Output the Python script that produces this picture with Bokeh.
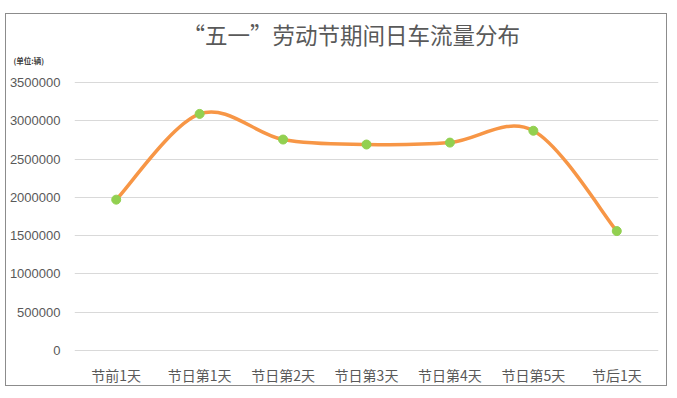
from bokeh.plotting import figure
from bokeh.models import Range1d, FixedTicker, Title, ColumnDataSource
from bokeh.embed import file_html
from bokeh.resources import INLINE

categories = ["节前1天", "节日第1天", "节日第2天", "节日第3天", "节日第4天", "节日第5天", "节后1天"]
traffic = [1970000, 3090000, 2755000, 2690000, 2715000, 2870000, 1560000]
y_ticks = [0, 500000, 1000000, 1500000, 2000000, 2500000, 3000000, 3500000]
title_text = "“五一”劳动节期间日车流量分布"
unit_text = "(单位:辆)"

xs = list(range(len(categories)))

# Smooth curve (Catmull-Rom style Bezier segments through the data points)
x0, y0, x1, y1, cx0, cy0, cx1, cy1 = [], [], [], [], [], [], [], []
n = len(xs)
for i in range(n - 1):
    pm = max(i - 1, 0)
    pp = min(i + 2, n - 1)
    x0.append(xs[i]); y0.append(traffic[i])
    x1.append(xs[i + 1]); y1.append(traffic[i + 1])
    cx0.append(xs[i] + (xs[i + 1] - xs[pm]) / 6.0)
    cy0.append(traffic[i] + (traffic[i + 1] - traffic[pm]) / 6.0)
    cx1.append(xs[i + 1] - (xs[pp] - xs[i]) / 6.0)
    cy1.append(traffic[i + 1] - (traffic[pp] - traffic[i]) / 6.0)

seg = ColumnDataSource(dict(x0=x0, y0=y0, x1=x1, y1=y1, cx0=cx0, cy0=cy0, cx1=cx1, cy1=cy1))
pts = ColumnDataSource(dict(x=xs, y=traffic))

W, H = 662, 373
p = figure(width=W, height=H, output_backend="svg", toolbar_location=None,
           x_range=Range1d(-0.5, len(categories) - 0.5), y_range=Range1d(-13000, 3513000),
           min_border_left=67, min_border_right=10, min_border_top=67, min_border_bottom=32,
           margin=(13, 0, 0, 5))
p.title = None
p.styles = {"border": "1px solid #8c8c8c"}
p.outline_line_color = None
p.background_fill_color = "white"
p.border_fill_color = "white"

p.bezier(x0="x0", y0="y0", x1="x1", y1="y1", cx0="cx0", cy0="cy0", cx1="cx1", cy1="cy1",
         source=seg, line_color="#F79646", line_width=3.5)
p.scatter("x", "y", source=pts, size=9, fill_color="#92D050", line_color="#92D050")

p.xaxis.ticker = FixedTicker(ticks=xs)
p.xaxis.major_label_overrides = {i: c for i, c in enumerate(categories)}
p.yaxis.ticker = FixedTicker(ticks=y_ticks)
p.yaxis.formatter.use_scientific = False

for ax in (p.xaxis[0], p.yaxis[0]):
    ax.axis_line_color = None
    ax.major_tick_line_color = None
    ax.minor_tick_line_color = None
    ax.major_label_text_color = "#595959"
p.xaxis.major_label_text_font = "Noto Sans CJK SC"
p.xaxis.major_label_text_font_size = "14px"
p.xaxis.major_label_standoff = 7
p.yaxis.major_label_text_font = "Liberation Sans"
p.yaxis.major_label_text_font_size = "13px"
p.yaxis.major_label_standoff = 8

p.xgrid.grid_line_color = None
p.ygrid.grid_line_color = "#D9D9D9"
p.ygrid.grid_line_width = 1

spacer = Title(text=" ", standoff=10, text_font_size="1px")
unit_title = Title(text=unit_text, align="left", offset=-61, standoff=6,
                   text_font="Noto Sans CJK SC", text_font_size="7.5px",
                   text_font_style="bold", text_color="#404040")
main_title = Title(text=title_text, align="left", offset=108, standoff=0,
                   text_font="Noto Sans CJK SC", text_font_size="22.5px",
                   text_font_style="normal", text_color="#595959")
p.add_layout(spacer, "above")
p.add_layout(unit_title, "above")
p.add_layout(main_title, "above")

open("out.html", "w").write(file_html(p, INLINE))
